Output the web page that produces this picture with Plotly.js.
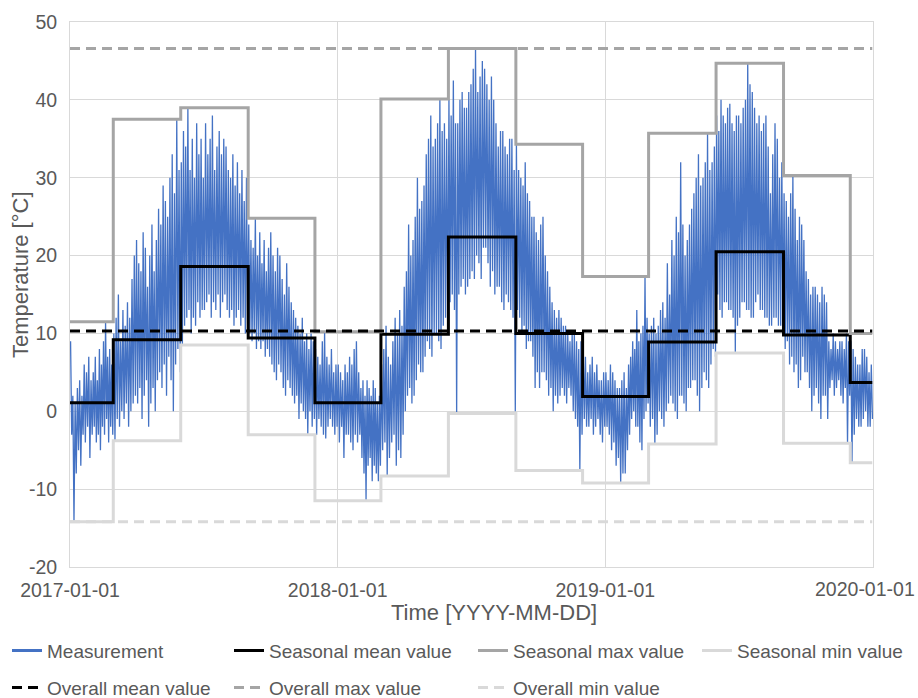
<!DOCTYPE html>
<html>
<head>
<meta charset="utf-8">
<script src="https://cdn.plot.ly/plotly-3.0.1.min.js"></script>
<style>html,body{margin:0;padding:0;background:#fff;}#chart{width:918px;height:698px;}</style>
</head>
<body>
<div id="chart"></div>
<script>
// ---- Data ----
// Measurement: per month, alternating daily-high / daily-low readings (°C), 2017-01 .. 2019-12
const measurementStartYear = 2017;
const monthlyMeasurement = [
  // 2017
  [9,-3, 2,-14.2, 1,-8, 3,-5, 4,-7, 2,-3, 6,-4, 5,-2, 7,-6, 4,-3],
  [5,-2, 7,-4, 4,-3, 8,-5, 6,-2, 9,-3, 11.5,-1, 7,-4, 8,-2, 6,-3],
  [10,-3.8, 12,-1, 15,-2, 9,0, 13,-1, 11,1, 14,-2, 12,0, 17,1, 20,2],
  [22,1, 19,3, 18,-1, 23,2, 21,4, 16,-2, 20,1, 24,3, 18,0, 22,4],
  [26,5, 24,3, 29,6, 27,2, 25,7, 30,4, 33,0, 28,6, 37.5,8, 31,5],
  [32,8.5, 36,11, 34,12, 39,13, 31,10, 35,12, 30,11, 37,14, 33,12, 35,13],
  [30,13, 37,14, 33,15, 35,12, 38,14, 31,13, 34,15, 36,12, 33,14, 35,15],
  [34,13, 31,12, 30,13, 33,11, 29,12, 32,13, 28,11, 31,12, 27,10, 30,11],
  [24,10, 22,9, 21,10, 24.8,8, 20,9, 23,8, 19,9, 22,7, 18,8, 21,7],
  [23,6, 20,5, 18,4, 21,6, 20,5, 17,3, 15,2, 19,4, 16,3, 14,2],
  [13,1, 12,2, 11,-1, 10,1, 12,0, 9,-1, 10,-3, 8,0, 10,-2, 9,-1],
  [8,-3, 7,-1, 6,-2, 9,-3, 10.2,-3.5, 7,-2, 6,-1, 8,-2, 5,-3, 6,-2],
  // 2018
  [6,-4, 5,-2, 4,-6, 6,-3, 5,-3, 7,-4, 6,-5, 8,-3, 9,-4, 5,-3],
  [3,-6, 4,-8, 2,-11.4, 4,-7, 3,-6, 2,-9, 4,-7, 3,-8, 1,-9, 2,-7],
  [6,-5, 8,-4, 11,-8.3, 7,-6, 6,-4, 9,-3, 12,-7, 10,-5, 13,-6, 11,-3],
  [16,0, 18,2, 24,3, 20,1, 22,2, 25,4, 30,6, 26,5, 27,5, 29,7],
  [33,9, 35,8, 38,7, 34,10, 35,10, 37,9, 40.1,8, 36,11, 37,12, 35,10],
  [40,14, 38,15, 42.5,13, 37,-0.3, 37,15, 40,16, 41,17, 39,15, 39,16, 41,17],
  [42,18, 44,17, 46.6,20, 41,19, 43,17, 45,21, 44,21, 42,19, 40,16, 43,18],
  [40,15, 37,16, 34,16, 36,14, 36,13, 34,15, 33,14, 35,13, 35,12, 31,0],
  [34.3,13, 31,12, 30,10, 29,11, 32,8, 28,9, 27,9, 25,7, 25,3, 23,5],
  [22,3, 24,5, 25,5, 20,4, 18,2, 16,3, 14,0, 13,2, 12,1, 13,2],
  [12,3, 11,2, 11,1, 10,3, 9,2, 10,0, 10,-1, 9,-2, 8,-7.6, 9,-3],
  [8,-1, 7,-2, 5,-2, 6,-1, 7,-3, 5,-2, 6,-1, 4,-3, 4,-4, 5,-2],
  // 2019
  [5,-2, 4,-3, 6,-5, 5,-4, 4,-7, 3,-6, 3,-9.2, 4,-8, 5,-8, 3,-5],
  [6,-3, 7,-1, 9,0, 8,-2, 13,-2, 9,-4, 10,-5, 11,-1, 17.3,0, 12,1],
  [10,-2, 11,-1, 12,-4.2, 10,-3, 11,0, 13,-1, 14,-2, 12,0, 19,1, 15,2],
  [22,1, 20,0, 25,-1, 23,2, 32,2, 24,1, 20,0, 22,3, 24,3, 26,4],
  [28,4, 30,2, 33,0, 29,3, 30,5, 32,4, 35.7,3, 31,6, 32,8, 34,7],
  [38,15, 36,13, 40,12, 38,14, 37,14, 39,13, 39.5,13, 37,12, 36,7.5, 38,11],
  [38,12, 37,14, 39,14, 40,13, 44.7,13, 42,12, 41,12, 39,14, 37,15, 38,13],
  [36,13, 37,12, 38,12, 34,11, 28,11, 33,12, 37,12, 35,11, 30,11, 32,10],
  [28,8, 27,9, 25,6, 28,7, 30.3,5, 26,6, 22,3, 25,4, 24,7, 22,5],
  [18,5, 17,3, 15,0, 16,2, 16,3, 15,1, 14,-1, 16,2, 15,2, 14,-1],
  [9,3, 8,4, 10,2, 9,3, 8,4, 9,2, 9,1, 8,3, 10,-4.1, 9,2],
  [9,-6.6, 8,-3, 7,-1, 6,-2, 6,-2, 8,-1, 8,0, 7,-2, 5,-2, 6,-1]
];

// Seasonal statistics (meteorological seasons)
const seasonStarts = ['2017-01-01', '2017-03-01', '2017-06-01', '2017-09-01', '2017-12-01',
                      '2018-03-01', '2018-06-01', '2018-09-01', '2018-12-01',
                      '2019-03-01', '2019-06-01', '2019-09-01', '2019-12-01'];
const seriesEnd = '2019-12-31';
const seasonalMean = [1.1, 9.2, 18.6, 9.4, 1.1, 9.9, 22.4, 10.0, 1.9, 8.9, 20.5, 9.8, 3.7];
const seasonalMax  = [11.5, 37.5, 39.0, 24.8, 10.2, 40.1, 46.6, 34.3, 17.3, 35.7, 44.7, 30.3, 10.0];
const seasonalMin  = [-14.2, -3.8, 8.5, -3.0, -11.5, -8.3, -0.3, -7.6, -9.2, -4.2, 7.5, -4.1, -6.6];

const overallMean = 10.3;
const overallMax = 46.6;
const overallMin = -14.2;

const xTickVals = ['2017-01-01', '2018-01-01', '2019-01-01', '2020-01-01'];
const xTickText = ['2017-01-01', '2018-01-01', '2019-01-01', '2020-01-01'];
const yTickVals = [-20, -10, 0, 10, 20, 30, 40, 50];
const yTickText = ['-20', '-10', '0', '10', '20', '30', '40', '50'];

// ---- Build traces ----
function pad(n){ return (n < 10 ? '0' : '') + n; }
const measX = [], measY = [];
monthlyMeasurement.forEach(function(vals, m){
  const y = measurementStartYear + Math.floor(m / 12), mo = m % 12;
  const t0 = Date.UTC(y, mo, 1), t1 = Date.UTC(y, mo + 1, 1);
  vals.forEach(function(v, k){
    const t = new Date(t0 + (k + 0.5) / vals.length * (t1 - t0));
    measX.push(t.getUTCFullYear() + '-' + pad(t.getUTCMonth() + 1) + '-' + pad(t.getUTCDate()) + ' ' + pad(t.getUTCHours()) + ':' + pad(t.getUTCMinutes()));
    measY.push(v);
  });
});

function stepTrace(name, vals, color, legendId){
  return {
    type: 'scatter', mode: 'lines', name: name,
    x: seasonStarts.concat([seriesEnd]),
    y: vals.concat([vals[vals.length - 1]]),
    line: {shape: 'hv', color: color, width: 3},
    legend: legendId
  };
}
const xFull = [seasonStarts[0], seriesEnd];
function flatTrace(name, v, color, legendId){
  return {
    type: 'scatter', mode: 'lines', name: name,
    x: xFull, y: [v, v],
    line: {color: color, width: 3, dash: '10px,6px'},
    legend: legendId
  };
}

const traces = [
  {type: 'scatter', mode: 'lines', name: 'Measurement', x: measX, y: measY,
   line: {color: '#4472C4', width: 1.3}, showlegend: false},
  // legend entry for the measurement (drawn with a thicker sample line, no data)
  {type: 'scatter', mode: 'lines', name: 'Measurement', x: [null], y: [null],
   line: {color: '#4472C4', width: 3}, legend: 'legend', showlegend: true},
  stepTrace('Seasonal mean value', seasonalMean, '#000000', 'legend2'),
  stepTrace('Seasonal max value', seasonalMax, '#A5A5A5', 'legend3'),
  stepTrace('Seasonal min value', seasonalMin, '#D9D9D9', 'legend4'),
  flatTrace('Overall mean value', overallMean, '#000000', 'legend5'),
  flatTrace('Overall max value', overallMax, '#A5A5A5', 'legend6'),
  flatTrace('Overall min value', overallMin, '#D9D9D9', 'legend7')
];

const txt = '#595959';
const fam = '"Liberation Sans", Arial, sans-serif';
function legendAt(xpx, ytop){
  return {
    orientation: 'h', xref: 'container', yref: 'container', xanchor: 'left', yanchor: 'top',
    x: xpx / 918, y: ytop, font: {family: fam, size: 19, color: txt},
    bgcolor: 'rgba(0,0,0,0)'
  };
}
const row1 = 0.095, row2 = 0.042;

// last x tick label is drawn as an annotation so it stays inside the page (as in the reference)
const axisTickText = xTickText.slice(0, -1).concat(['']);

const layout = {
  width: 918, height: 698,
  margin: {l: 70, r: 45, t: 22, b: 131},
  paper_bgcolor: '#ffffff', plot_bgcolor: '#ffffff',
  font: {family: fam, color: txt, size: 18},
  showlegend: true,
  xaxis: {
    type: 'date', range: ['2017-01-01', '2020-01-01'],
    tickvals: xTickVals, ticktext: axisTickText,
    tickfont: {family: fam, size: 19.5, color: txt},
    showgrid: true, gridcolor: '#D9D9D9', gridwidth: 1,
    showline: true, linecolor: '#D9D9D9', linewidth: 1, mirror: true,
    ticks: 'outside', ticklen: 6, tickcolor: 'rgba(0,0,0,0)',
    zeroline: false, automargin: false
  },
  yaxis: {
    range: [-20, 50], tickvals: yTickVals, ticktext: yTickText,
    tickfont: {family: fam, size: 19.5, color: txt},
    showgrid: true, gridcolor: '#D9D9D9', gridwidth: 1,
    showline: true, linecolor: '#D9D9D9', linewidth: 1, mirror: true,
    ticks: 'outside', ticklen: 8, tickcolor: 'rgba(0,0,0,0)',
    zeroline: false, automargin: false
  },
  annotations: [
    {text: xTickText[xTickText.length - 1], xref: 'x', yref: 'paper',
     x: xTickVals[xTickVals.length - 1], y: -(589 - 567) / 545, xanchor: 'right', yanchor: 'middle',
     xshift: 44, showarrow: false, font: {family: fam, size: 19.5, color: txt}},
    {text: 'Time [YYYY-MM-DD]', xref: 'paper', yref: 'paper',
     x: (494 - 70) / 803, y: -(612 - 567) / 545, xanchor: 'center', yanchor: 'middle',
     showarrow: false, font: {family: fam, size: 22, color: txt}},
    {text: 'Temperature [°C]', xref: 'paper', yref: 'paper', textangle: -90,
     x: (20 - 70) / 803, y: (567 - 275) / 545, xanchor: 'center', yanchor: 'middle',
     showarrow: false, font: {family: fam, size: 22, color: txt}}
  ],
  legend:  legendAt(7, row1),
  legend2: legendAt(229, row1),
  legend3: legendAt(473, row1),
  legend4: legendAt(697, row1),
  legend5: legendAt(7, row2),
  legend6: legendAt(229, row2),
  legend7: legendAt(473, row2)
};

Plotly.newPlot('chart', traces, layout, {displayModeBar: false, staticPlot: true});
</script>
</body>
</html>
